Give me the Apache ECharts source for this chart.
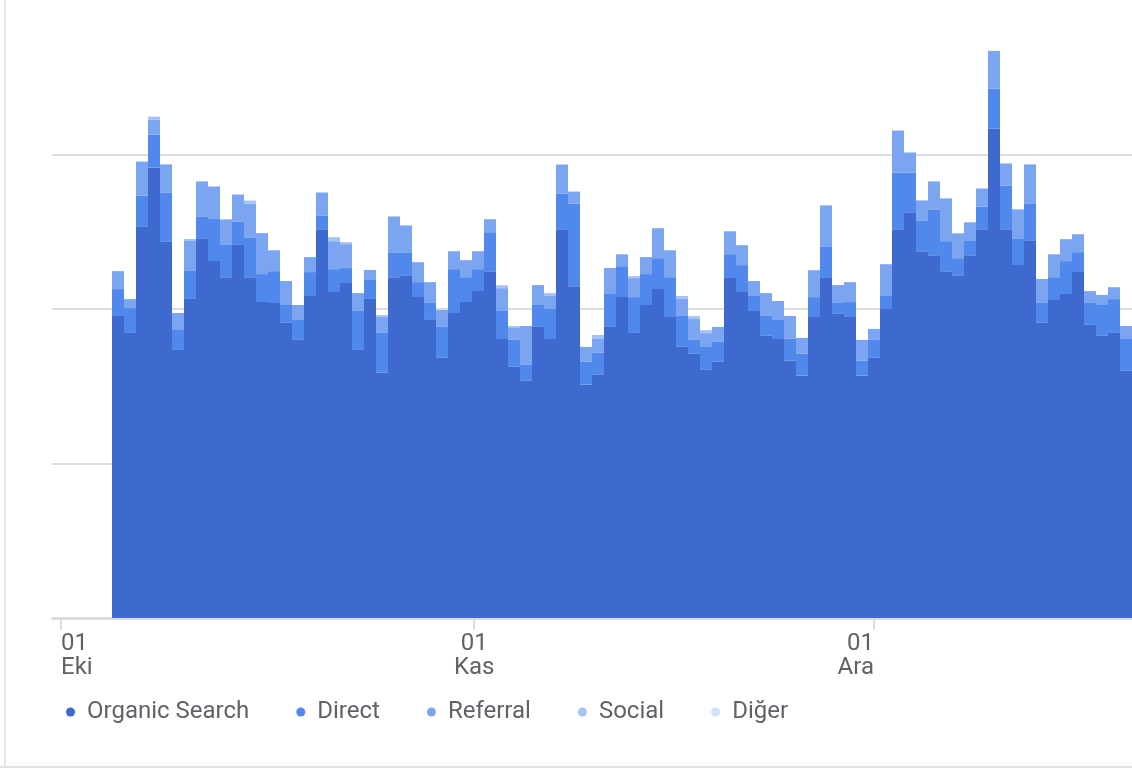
<!DOCTYPE html>
<html>
<head>
<meta charset="utf-8">
<script src="https://cdn.jsdelivr.net/npm/echarts@6/dist/echarts.min.js"></script>
<style>
html,body{margin:0;padding:0;background:#fff;}
#chart{width:1132px;height:780px;}
</style>
</head>
<body>
<div id="chart"></div>
<script>
const seriesNames = ['Organic Search', 'Direct', 'Referral', 'Social', 'Diğer'];
const seriesColors = ['#3e69cf', '#5089eb', '#7ca5f1', '#a6c3f5', '#d0dffa'];

const organicSearch = [195.5,184.5,253.5,291.6,243.9,173.5,206.5,245.8,231.0,220.6,
  241.9,220.6,204.5,203.9,191.0,180.0,208.4,251.6,211.0,216.8,
  173.5,206.5,158.7,220.6,221.9,207.7,192.9,168.4,197.4,204.5,
  211.6,224.5,180.6,162.6,153.5,188.4,180.6,251.6,214.8,151.0,
  157.4,188.4,207.7,184.5,202.6,212.9,194.8,175.5,171.0,160.6,
  165.8,220.0,211.0,198.7,182.6,180.6,166.5,156.8,194.8,220.0,
  196.8,194.8,156.8,168.4,200.0,251.6,262.6,237.4,234.8,224.5,
  221.9,234.8,251.6,316.8,251.6,228.4,244.5,191.0,205.8,209.7,
  223.9,189.7,182.6,184.5,160.0];
const direct = [17.4,16.1,20.0,21.3,31.6,12.9,18.1,14.2,27.7,21.3,
  14.8,25.8,18.1,20.6,11.6,12.9,15.5,9.0,14.8,9.7,
  25.2,12.3,25.8,16.1,14.8,9.7,11.0,20.0,28.4,16.1,
  14.2,25.2,18.1,17.4,10.3,14.2,19.4,23.2,53.5,14.8,
  14.2,21.3,20.0,23.2,20.0,20.0,25.8,20.0,9.0,14.8,
  12.9,15.5,17.4,9.7,12.9,12.3,14.2,14.2,12.9,20.6,
  7.1,9.7,9.7,11.6,8.4,36.8,25.8,20.0,29.7,19.4,
  11.0,9.7,14.8,25.8,28.4,17.4,23.9,12.9,14.8,21.3,
  12.9,14.2,20.0,21.9,20.6];
const referral = [11.6,5.8,21.9,9.7,18.1,11.0,19.4,22.6,20.6,16.1,
  17.4,21.9,26.5,13.5,15.5,9.7,9.7,14.8,18.1,15.5,
  11.6,6.5,10.3,23.2,17.4,12.9,13.5,11.0,11.6,11.0,
  11.6,8.4,14.8,7.7,25.2,12.9,8.4,18.7,7.7,9.7,
  9.0,16.8,7.7,12.3,11.0,19.4,17.4,11.0,13.5,9.0,
  9.7,14.8,12.9,9.7,14.8,12.3,14.8,10.3,17.4,26.5,
  11.6,12.9,13.5,7.1,20.6,27.1,12.9,12.9,18.1,27.7,
  16.1,11.6,11.6,24.5,14.2,18.7,25.2,15.5,14.8,14.2,
  11.6,7.7,6.5,7.7,8.4];
const social = [0,0,0,1.9,0,0,1.3,0,0,0,
  0,1.9,0,0,0,0,0,0,2.6,1.3,
  0,0,1.3,0,0,0,0,0,0,0,
  0,0,1.9,1.3,0,0,1.9,0,0,0,
  2.6,0,0,1.3,0,0,0,1.9,1.9,1.9,
  0,0,0,0,0,0,0,0,0,0,
  0,0,0,0,0,0,0,0,0,0,
  0,0,0,0,0,0,0,0,0,0,
  0,0,0,0,0];
const diger = [];

const categories = organicSearch.map((_, i) => 'G' + (i + 1));

// date axis: days counted from 01 Eki
const tickDays = [0, 31, 61];
const tickLabels = ['01\nEki', '01\nKas', '01\nAra'];
const dayAxisMin = -0.675;
const dayAxisMax = 80.36;

const LEAD = 5; // empty slots before the first bar
function pad(arr, fill) { return new Array(LEAD).fill(fill).concat(arr); }

const seriesData = [organicSearch, direct, referral, social, diger];

const chart = echarts.init(document.getElementById('chart'), null, {renderer: 'canvas'});
chart.setOption({
  animation: false,
  textStyle: {fontFamily: 'Roboto'},
  grid: {left: 52, right: 0, top: -2, bottom: 162, containLabel: false},
  xAxis: [
    {type: 'category', data: pad(categories, ''), show: false, boundaryGap: true},
    {
      type: 'value', position: 'bottom', offset: 1,
      min: dayAxisMin, max: dayAxisMax,
      axisLine: {show: true, onZero: false, lineStyle: {color: '#dadce0', width: 2}},
      axisTick: {show: true, customValues: tickDays, length: 11, lineStyle: {color: '#dadce0', width: 2}},
      axisLabel: {
        customValues: tickDays,
        formatter: v => { const k = tickDays.indexOf(Math.round(v)); return k >= 0 ? tickLabels[k] : ''; },
        color: '#5f6368', fontSize: 24, lineHeight: 24, margin: 13, fontFamily: 'Roboto',
        alignMinLabel: 'left', alignMaxLabel: 'right'
      },
      splitLine: {show: false}
    }
  ],
  yAxis: {
    type: 'value', min: 0, max: 400, interval: 100,
    axisLabel: {show: false}, axisLine: {show: false}, axisTick: {show: false},
    splitLine: {show: true, showMaxLine: false, lineStyle: {color: '#dcdcdf', width: 2}}
  },
  legend: {
    left: 61, top: 695, icon: 'circle', itemWidth: 9, itemHeight: 9, itemGap: 47,
    data: seriesNames,
    textStyle: {color: '#5f6368', fontSize: 24, fontFamily: 'Roboto', padding: [0, 0, 0, 7]}
  },
  graphic: [
    {type: 'line', shape: {x1: 5, y1: 0, x2: 5, y2: 767}, style: {stroke: '#e6e6e6', lineWidth: 2}, silent: true},
    {type: 'line', shape: {x1: 0, y1: 767, x2: 1132, y2: 767}, style: {stroke: '#e3e3e3', lineWidth: 2}, silent: true}
  ],
  series: seriesNames.map((name, i) => ({
    type: 'bar', name: name, stack: 'total', xAxisIndex: 0, yAxisIndex: 0,
    barCategoryGap: '0%', barGap: '0%',
    data: pad(seriesData[i], null),
    itemStyle: {color: seriesColors[i]},
    emphasis: {disabled: true}
  }))
});
</script>
</body>
</html>
